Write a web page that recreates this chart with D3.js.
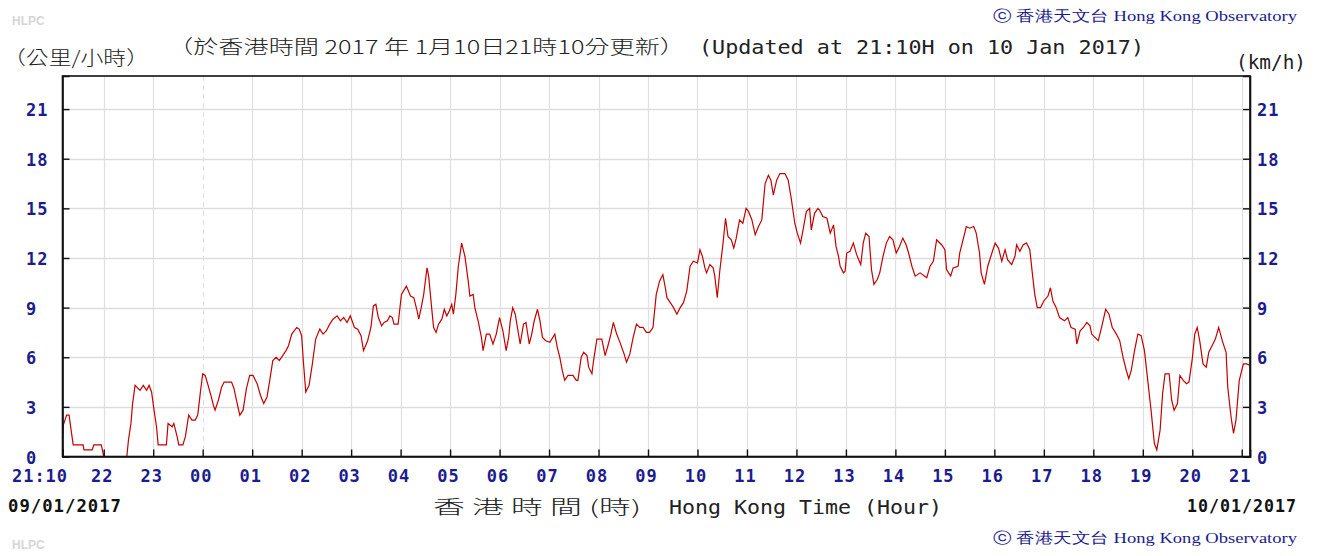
<!DOCTYPE html>
<html><head><meta charset="utf-8">
<script src="https://cdn.jsdelivr.net/npm/d3@7"></script>
<style>
html,body{margin:0;padding:0;background:#fff;}
svg{display:block;}
</style></head>
<body>
<svg id="chart" width="1321" height="556"></svg>
<script>
// ---- data (minutes after 21:10 on 09/01/2017, wind speed km/h) ----
const minutes = [0,1,5,8,11,13,25,26,36,38,47,50,78,80,83,85,88,94,98,102,105,108,111,114,116,126,128,133,135,139,141,146,149,153,157,161,164,167,170,173,176,180,183,185,189,193,196,205,208,211,215,219,223,227,231,236,240,244,248,251,255,259,263,267,271,274,278,284,287,290,292,295,299,303,307,312,316,320,324,328,333,337,341,345,349,354,358,362,365,370,374,377,380,383,387,390,394,397,400,402,407,411,417,422,426,430,432,435,438,442,444,448,450,
453,456,460,463,466,469,472,474,477,480,484,488,492,494,498,500,504,508,510,514,518,522,526,530,534,538,541,543,546,549,552,555,559,562,566,569,572,576,579,582,586,591,597,600,603,606,609,613,619,623,625,629,632,636,638,642,644,648,654,658,662,665,668,672,676,681,684,688,692,696,700,704,708,712,716,718,720,724,728,731,733,737,741,745,749,753,757,761,765,770,773,776,779,781,785,789,791,794,797,801,804,807,811,814,817,821,825,829,832,836,840,844,848,852,856,859,862,866,870,876,880,884,888,891,895,898,902,906,908,912,916,
918,922,927,931,935,938,941,943,947,949,951,955,959,963,968,971,974,978,981,984,988,991,995,999,1003,1007,1011,1015,1019,1023,1026,1030,1034,1040,1048,1052,1056,1060,1066,1070,1072,1077,1080,1086,1088,1092,1096,1100,1105,1108,1112,1114,1118,1122,1127,1131,1135,1139,1143,1146,1151,1155,1157,1161,1165,1169,1173,1176,1179,1182,1186,1190,1195,1198,1201,1205,1209,1215,1219,1223,1228,1230,1234,1238,1242,1246,1248,1252,1256,1260,1265,1269,1273,1278,1282,1286,1290,1293,1296,1300,1304,1308,1312,1316,1320,1324,1327,1331,1334,1337,1342,1345,1348,1352,1355,1359,1363,1366,1370,1373,1376,1379,1383,1387,1390,1394,1398,1402,1407,1411,1413,1417,1420,1423,1427,1432,1436,1440];
const speeds = [1.1,1.9,2.5,2.5,1.4,0.7,0.7,0.4,0.4,0.7,0.7,0,0,1.0,2.0,3.2,4.3,4.0,4.3,4.0,4.3,3.9,2.8,1.8,0.7,0.7,2.0,1.8,2.0,1.2,0.7,0.7,1.2,2.5,2.2,2.2,2.5,3.8,5.0,4.9,4.4,3.7,3.1,2.8,3.4,4.2,4.5,4.5,4.1,3.4,2.5,2.8,4.1,4.9,4.9,4.4,3.7,3.2,3.6,4.5,5.8,6.0,5.8,6.1,6.4,6.7,7.4,7.8,7.7,7.3,5.8,3.9,4.3,5.6,7.1,7.7,7.4,7.6,8.0,8.3,8.5,8.2,8.4,8.1,8.5,7.8,7.7,7.3,6.4,7.0,7.8,9.1,9.2,8.4,7.9,8.1,8.2,8.5,8.4,8.0,8.0,9.8,10.3,9.7,9.6,8.8,8.3,9.0,9.8,11.4,10.9,8.8,7.8,
7.5,8.0,8.3,8.9,8.5,8.8,9.2,8.6,9.8,11.5,12.9,12.1,10.6,9.7,9.8,9.0,8.2,7.2,6.4,7.4,7.4,6.8,7.4,8.4,7.6,6.4,7.2,8.2,9.0,8.6,7.7,6.8,8.0,8.1,6.8,7.4,8.2,8.9,8.2,7.2,7.0,6.9,7.4,6.6,6.0,5.2,4.6,4.9,4.9,4.6,4.6,6.0,6.3,6.1,5.4,5.0,5.8,7.1,7.1,6.1,6.8,7.4,8.1,7.4,6.9,6.2,5.7,6.2,7.2,8.0,7.8,7.8,7.5,7.5,7.8,8.8,9.8,10.6,11.0,10.2,9.6,9.3,9.0,8.6,9.0,9.3,10.0,11.5,11.8,11.7,12.5,12.1,11.4,11.1,11.6,11.4,10.9,9.6,11.2,12.9,14.4,13.3,13.1,12.6,13.2,14.3,14.1,15.0,14.8,14.3,13.4,13.9,14.3,16.5,17.0,16.7,15.8,16.7,17.1,17.1,16.7,15.5,14.1,13.5,12.9,13.7,14.8,15.0,13.7,14.7,15.0,
14.9,14.5,14.4,13.5,14.0,12.7,12.1,11.5,11.1,11.2,12.3,12.4,12.9,12.2,11.6,12.9,13.5,13.3,11.3,10.4,10.7,11.1,12.1,12.9,13.3,13.1,12.3,12.7,13.2,12.8,12.3,11.5,10.9,11.1,10.8,11.5,11.8,13.1,12.8,12.5,11.3,10.9,11.4,11.5,12.3,13.1,13.9,13.8,13.9,13.5,12.3,11.1,10.4,11.5,12.3,12.9,12.6,11.8,12.5,11.9,11.6,12.1,12.8,12.4,12.8,12.9,12.5,11.1,9.8,9.0,9.0,9.4,9.7,10.2,9.4,9.0,8.4,8.2,8.4,7.8,7.7,6.8,7.6,7.8,8.1,7.9,7.4,7.2,7.0,7.8,8.9,8.6,7.8,7.4,7.0,6.0,5.2,4.7,5.2,6.4,7.4,7.3,6.4,4.6,2.8,0.8,0.4,1.6,3.8,5.0,5.0,3.4,2.8,3.2,4.9,4.6,4.4,4.5,5.9,7.4,7.8,7.0,5.6,5.4,6.3,6.7,7.1,7.8,6.9,6.3,4.2,2.4,1.4,2.2,4.6,5.6,5.6,5.5];
const yTicks = [0,3,6,9,12,15,18,21];
const xTickLabels = ["21:10","22","23","00","01","02","03","04","05","06","07","08","09","10","11","12","13","14","15","16","17","18","19","20","21"];
const startDate = "09/01/2017", endDate = "10/01/2017";
const titleZh = "（於香港時間 2017 年 1月10日21時10分更新）";
const titleEn = "(Updated at 21:10H on 10 Jan 2017)";
const unitZh = "（公里/小時）", unitEn = "(km/h)";
const axisTitleZh = "香 港 時 間 (時)", axisTitleEn = "Hong Kong Time (Hour)";
const copyright = "ⓒ 香港天文台 Hong Kong Observatory";

// ---- layout ----
const L = 62.5, R = 1250, T = 76, B = 456.5;
const svg = d3.select("#chart");
const t0 = new Date(2017, 0, 9, 21, 10);
const t1 = new Date(t0.getTime() + 1440 * 60000);
const x = d3.scaleTime().domain([t0, t1]).range([L, R]);
const y = d3.scaleLinear().domain([0, 23]).range([B, T]);
const data = minutes.map((m, i) => ({t: new Date(t0.getTime() + m * 60000), v: speeds[i]}));
const hourTicks = [t0].concat(d3.timeHour.range(d3.timeHour.ceil(new Date(t0.getTime()+1)), t1));

const mono = "'DejaVu Sans Mono', monospace";
const cjk = "'Noto Sans CJK TC', 'Noto Sans CJK SC', sans-serif";
const navy = "#1c1c8e";

// gridlines
svg.append("g").selectAll("line").data(yTicks.filter(d => d > 0)).join("line")
  .attr("x1", L).attr("x2", R).attr("y1", d => Math.round(y(d)) + 0.5).attr("y2", d => Math.round(y(d)) + 0.5)
  .attr("stroke", "#dddddd").attr("stroke-width", 1.3);
svg.append("g").selectAll("line").data(hourTicks.slice(1)).join("line")
  .attr("x1", d => Math.round(x(d)) + 0.5).attr("x2", d => Math.round(x(d)) + 0.5)
  .attr("y1", T).attr("y2", B)
  .attr("stroke", "#e0e0e0").attr("stroke-width", 1.2)
  .attr("stroke-dasharray", d => d.getHours() === 0 ? "5,4" : null);

// data line
svg.append("path").datum(data)
  .attr("fill", "none").attr("stroke", "#c40000").attr("stroke-width", 1.2)
  .attr("d", d3.line().x(d => x(d.t)).y(d => y(d.v)));

// frame
svg.append("rect").attr("x", L).attr("y", T).attr("width", R - L).attr("height", B - T)
  .attr("fill", "none").attr("stroke", "#111").attr("stroke-width", 1.6);

// axes with inward ticks
const axL = d3.axisLeft(y).tickValues(yTicks).tickSize(-7).tickFormat("");
const axR = d3.axisRight(y).tickValues(yTicks).tickSize(-7).tickFormat("");
const axB = d3.axisBottom(x).tickValues(hourTicks).tickSize(-7).tickFormat("");
[[axL, `translate(${L},0)`], [axR, `translate(${R},0)`], [axB, `translate(0,${B})`]].forEach(([a, tr]) => {
  const g = svg.append("g").attr("transform", tr).call(a);
  g.select(".domain").attr("stroke", "#111").attr("stroke-width", 1.6);
  g.selectAll(".tick line").attr("stroke", "#111").attr("stroke-width", 1.4);
});

// y labels
const lblStyle = sel => sel.attr("font-family", mono).attr("font-weight", "bold")
  .attr("font-size", 17).attr("letter-spacing", 1).attr("fill", navy);
svg.append("g").selectAll("text").data(yTicks).join("text")
  .attr("x", 26).attr("y", d => y(d) + 7).text(d => d).call(lblStyle);
svg.append("g").selectAll("text").data(yTicks).join("text")
  .attr("x", 1257).attr("y", d => y(d) + 7).text(d => d).call(lblStyle);
// x labels
svg.append("g").selectAll("text").data(hourTicks).join("text")
  .attr("x", (d, i) => i === 0 ? 40 : x(d) - 1.5).attr("y", 482)
  .attr("text-anchor", "middle").text((d, i) => xTickLabels[i]).call(lblStyle);

// dates
svg.append("text").attr("x", 8).attr("y", 512).text(startDate).call(lblStyle).attr("fill", "#111")
  .attr("textLength", 114).attr("lengthAdjust", "spacingAndGlyphs");
svg.append("text").attr("x", 1187).attr("y", 512).text(endDate).call(lblStyle).attr("fill", "#111")
  .attr("textLength", 110).attr("lengthAdjust", "spacingAndGlyphs");

// titles
const plain = (txt, xx, yy, len, fam, size) => svg.append("text").attr("x", xx).attr("y", yy).text(txt)
  .attr("font-family", fam).attr("font-size", size).attr("fill", "#222")
  .attr("textLength", len).attr("lengthAdjust", "spacingAndGlyphs");
plain(titleZh, 168, 54, 517, cjk, 19).attr("font-weight", 300);
plain(titleEn, 699, 54, 445, mono, 19);
plain(unitZh, 3, 65, 146, cjk, 19).attr("font-weight", 300);
plain(unitEn, 1236, 69, 70, mono, 19);
plain(axisTitleZh, 433, 514, 208, cjk, 19).attr("font-weight", 300);
plain(axisTitleEn, 669, 514, 273, mono, 19);

// copyrights
[21, 543].forEach(yy => {
  svg.append("text").attr("x", 993).attr("y", yy).text(copyright)
    .attr("font-family", "'Liberation Serif', serif").attr("font-size", 15).attr("fill", navy)
    .attr("textLength", 304).attr("lengthAdjust", "spacingAndGlyphs");
});
[25, 549].forEach(yy => {
  svg.append("text").attr("x", 12).attr("y", yy).text("HLPC")
    .attr("font-family", "'Liberation Sans', sans-serif").attr("font-weight", "bold")
    .attr("font-size", 12).attr("fill", "#d6d6d6");
});
</script>
</body></html>
